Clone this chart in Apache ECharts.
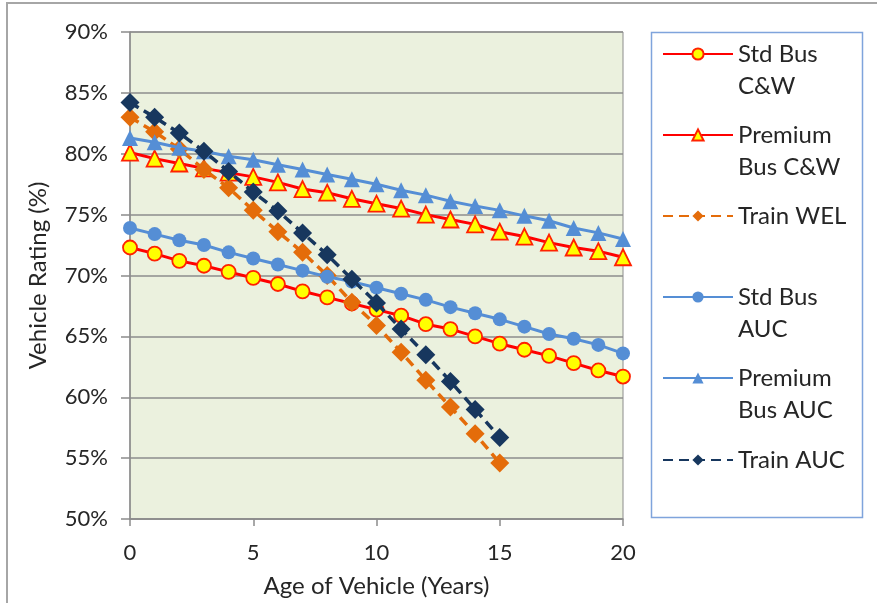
<!DOCTYPE html>
<html>
<head>
<meta charset="utf-8">
<script src="https://cdn.jsdelivr.net/npm/echarts@6/dist/echarts.min.js"></script>
<style>
  html, body { margin: 0; padding: 0; background: #fff; overflow: hidden; }
  #frame { position: absolute; left: 6px; top: 2px; width: 1000px; height: 1000px;
           border-left: 2px solid #a6a6a6; border-top: 2px solid #a6a6a6; }
  #chart { position: absolute; left: 0; top: 0; width: 877px; height: 603px; }
</style>
</head>
<body>
<div id="frame"></div>
<div id="chart"></div>
<script>
// ---- data ----
const ages = [0,1,2,3,4,5,6,7,8,9,10,11,12,13,14,15,16,17,18,19,20];
const stdBusCW   = [72.3,71.8,71.2,70.8,70.3,69.8,69.3,68.7,68.2,67.7,67.2,66.7,66.0,65.6,65.0,64.4,63.9,63.4,62.8,62.2,61.7];
const premBusCW  = [80.1,79.6,79.2,78.8,78.45,78.1,77.65,77.1,76.8,76.3,75.9,75.5,75.0,74.6,74.2,73.6,73.2,72.7,72.3,72.0,71.5];
const trainWEL   = [83.0,81.8,80.4,78.7,77.2,75.35,73.6,71.9,70.0,67.8,65.9,63.7,61.4,59.2,57.0,54.6];
const stdBusAUC  = [73.9,73.4,72.9,72.5,71.9,71.4,70.9,70.4,69.9,69.5,69.0,68.5,68.0,67.4,66.9,66.4,65.8,65.2,64.8,64.3,63.6];
const premBusAUC = [81.3,80.95,80.5,80.2,79.8,79.5,79.1,78.7,78.3,77.9,77.5,77.0,76.6,76.1,75.7,75.35,74.9,74.5,73.9,73.5,73.0];
const trainAUC   = [84.2,83.0,81.7,80.2,78.55,76.85,75.3,73.5,71.7,69.7,67.75,65.6,63.5,61.3,59.0,56.7];

const seriesNames  = ['Std Bus C&W','Premium Bus C&W','Train WEL','Std Bus AUC','Premium Bus AUC','Train AUC'];
const legendLabels = ['Std Bus\nC&W','Premium\nBus C&W','Train WEL','Std Bus\nAUC','Premium\nBus AUC','Train AUC'];
const xTicks = [0,5,10,15,20];
const yTicks = [50,55,60,65,70,75,80,85,90];

// ---- build ----
const FONT = 'Lato';
const TXT = '#262626';
const pairs = arr => arr.map((v, i) => [ages[i], v]);

const styles = [
  {line:'#FF0000', fill:'#FFFF00', border:'#FF2200', bw:1.8, symbol:'circle',   size:14, dash:'solid', w:3},
  {line:'#FF0000', fill:'#FFFF00', border:'#FF2200', bw:1.8, symbol:'triangle', size:16, dash:'solid', w:3},
  {line:'#E46C0A', fill:'#E46C0A', border:'#E46C0A', bw:0,   symbol:'diamond',  size:19, dash:[10,6], w:3.5},
  {line:'#558ED5', fill:'#558ED5', border:'#558ED5', bw:0,   symbol:'circle',   size:14, dash:'solid', w:3},
  {line:'#558ED5', fill:'#558ED5', border:'#558ED5', bw:0,   symbol:'triangle', size:16, dash:'solid', w:3},
  {line:'#17375E', fill:'#17375E', border:'#17375E', bw:0,   symbol:'diamond',  size:19, dash:[10,6], w:3.5}
];
const dataSets = [stdBusCW, premBusCW, trainWEL, stdBusAUC, premBusAUC, trainAUC];

const series = dataSets.map((d, i) => ({
  name: seriesNames[i],
  type: 'line',
  data: pairs(d),
  symbol: styles[i].symbol,
  symbolSize: styles[i].size,
  showAllSymbol: true,
  lineStyle: { color: styles[i].line, width: styles[i].w, type: styles[i].dash },
  itemStyle: { color: styles[i].fill, borderColor: styles[i].border, borderWidth: styles[i].bw },
  emphasis: { disabled: true },
  z: 2 + i
}));

// icon centre rows: 54, 135, 216, 297, 378, 460
// two-line labels get a blank first line so the first real line sits on the icon
const legendTops = [6, 87, 200, 249, 330, 444];
const legends = seriesNames.map((n, i) => ({
  show: true,
  orient: 'vertical',
  left: 662,
  top: legendTops[i],
  padding: 0,
  itemWidth: 70,
  itemHeight: 14,
  selectedMode: false,
  data: [n],
  formatter: () => (legendLabels[i].indexOf('\n') >= 0 ? ' \n' : '') + legendLabels[i],
  textStyle: { fontFamily: FONT, fontSize: 24, color: TXT, lineHeight: 32 }
}));

const chart = echarts.init(document.getElementById('chart'), null, { renderer: 'canvas' });
chart.setOption({
  animation: false,
  backgroundColor: 'transparent',
  grid: {
    left: 130, right: 254, top: 32, bottom: 83,
    show: true, backgroundColor: '#EBF1DE', borderColor: '#8c8c8c', borderWidth: 1
  },
  graphic: [{
    type: 'rect', left: 649, top: 30,
    shape: { width: 211, height: 485 },
    style: { fill: 'none', stroke: '#7fa4dc', lineWidth: 1.5 },
    silent: true
  }],
  legend: legends,
  xAxis: {
    type: 'value', min: xTicks[0], max: xTicks[xTicks.length - 1], interval: 5,
    name: 'Age of Vehicle (Years)', nameLocation: 'middle', nameGap: 55,
    nameTextStyle: { fontFamily: FONT, fontSize: 24, color: TXT },
    axisLine: { show: true, lineStyle: { color: '#8c8c8c', width: 1.5 } },
    axisTick: { show: true, length: 7, lineStyle: { color: '#8c8c8c', width: 1.5 } },
    axisLabel: { margin: 23, fontFamily: FONT, fontSize: 22, color: TXT },
    splitLine: { show: false }
  },
  yAxis: {
    type: 'value', min: yTicks[0], max: yTicks[yTicks.length - 1], interval: 5,
    name: 'Vehicle Rating (%)', nameLocation: 'middle', nameGap: 80,
    nameTextStyle: { fontFamily: FONT, fontSize: 24, color: TXT },
    axisLine: { show: true, lineStyle: { color: '#8c8c8c', width: 1.5 } },
    axisTick: { show: true, length: 9, lineStyle: { color: '#8c8c8c', width: 1.5 } },
    axisLabel: { margin: 22, fontFamily: FONT, fontSize: 22, color: TXT, formatter: '{value}%' },
    splitLine: { show: true, lineStyle: { color: '#8c8c8c', width: 1.5 } }
  },
  series: series
});
</script>
</body>
</html>
